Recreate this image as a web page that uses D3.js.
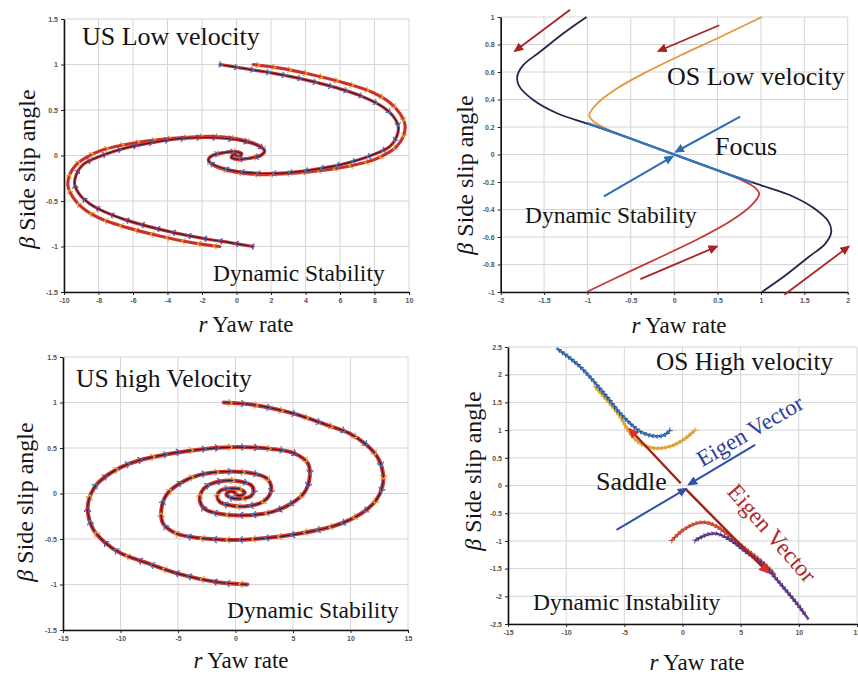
<!DOCTYPE html>
<html>
<head>
<meta charset="utf-8">
<script src="https://cdn.jsdelivr.net/npm/d3@7"></script>
<style>
  body { margin: 0; background: #fff; }
  .tick text { font-family: "Liberation Sans", Arial, sans-serif; font-size: 7px; font-weight: bold; fill: #555; }
</style>
</head>
<body>
<script>
// ---- tick values ----
var usLowXTicks = [-10, -8, -6, -4, -2, 0, 2, 4, 6, 8, 10];
var usLowYTicks = [-1.5, -1, -0.5, 0, 0.5, 1, 1.5];
var osLowXTicks = [-2, -1.5, -1, -0.5, 0, 0.5, 1, 1.5, 2];
var osLowYTicks = [-1, -0.8, -0.6, -0.4, -0.2, 0, 0.2, 0.4, 0.6, 0.8, 1];
var usHighXTicks = [-15, -10, -5, 0, 5, 10, 15];
var usHighYTicks = [-1.5, -1, -0.5, 0, 0.5, 1, 1.5];
var osHighXTicks = [-15, -10, -5, 0, 5, 10, 15];
var osHighYTicks = [-2.5, -2, -1.5, -1, -0.5, 0, 0.5, 1, 1.5, 2, 2.5];

// ---- US low velocity trajectories [r, beta] ----
var usLowA = [[-0.96,1.0],[0.3,0.96],[1.65,0.92],[3.58,0.85],[6.39,0.71],[7.64,0.62],[8.51,0.53],[9.09,0.43],[9.38,0.32],[9.29,0.21],[8.9,0.10],[8.32,0.04],[6.58,-0.075],[4.65,-0.15],[2.91,-0.19],[1.17,-0.195],[-0.38,-0.16],[-1.34,-0.10],[-1.63,-0.05],[-1.44,-0.005],[-0.77,0.03],[0.01,0.04],[0.3,0.02],[0.15,-0.01],[0,0]];
var usLowB = [[0.97,1.0],[2.52,0.96],[4.45,0.885],[6.39,0.79],[7.93,0.69],[8.9,0.58],[9.48,0.46],[9.77,0.335],[9.67,0.21],[9.29,0.10],[8.7,0.02],[7.93,-0.05],[6.58,-0.115],[4.84,-0.167],[2.91,-0.20],[1.36,-0.21],[-0.38,-0.17],[-1.34,-0.105],[-1.63,-0.05],[-1.44,-0.005],[-0.77,0.03],[0.01,0.04],[0.3,0.02],[0.15,-0.01],[0,0]];
var usLowC = [[0.96,-1.0],[-0.3,-0.96],[-1.65,-0.92],[-3.58,-0.85],[-6.39,-0.71],[-7.64,-0.62],[-8.51,-0.53],[-9.09,-0.43],[-9.38,-0.32],[-9.29,-0.21],[-8.9,-0.10],[-8.32,-0.04],[-6.58,0.075],[-4.65,0.15],[-2.91,0.19],[-1.17,0.195],[0.38,0.16],[1.34,0.10],[1.63,0.05],[1.44,0.005],[0.77,-0.03],[-0.01,-0.04],[-0.3,-0.02],[-0.15,0.01],[0,0]];
var usLowD = [[-0.97,-1.0],[-2.52,-0.96],[-4.45,-0.885],[-6.39,-0.79],[-7.93,-0.69],[-8.9,-0.58],[-9.48,-0.46],[-9.77,-0.335],[-9.67,-0.21],[-9.29,-0.10],[-8.7,-0.02],[-7.93,0.05],[-6.58,0.115],[-4.84,0.167],[-2.91,0.20],[-1.36,0.21],[0.38,0.17],[1.34,0.105],[1.63,0.05],[1.44,0.005],[0.77,-0.03],[-0.01,-0.04],[-0.3,-0.02],[-0.15,0.01],[0,0]];

// ---- OS low velocity ----
var osLowDark1 = [[-1.01,1.0],[-1.28,0.88],[-1.55,0.745],[-1.74,0.65],[-1.81,0.565],[-1.78,0.49],[-1.62,0.395],[-1.35,0.30],[-1.01,0.226],[-0.66,0.152],[-0.32,0.073],[0,0]];
var osLowDark2 = [[1.01,-1.0],[1.28,-0.88],[1.55,-0.745],[1.74,-0.65],[1.81,-0.565],[1.78,-0.49],[1.62,-0.395],[1.35,-0.30],[1.01,-0.226],[0.66,-0.152],[0.32,-0.073],[0,0]];
var osLowOrange = [[1.01,1.0],[0.53,0.855],[0.07,0.72],[-0.32,0.60],[-0.66,0.48],[-0.89,0.37],[-0.98,0.287],[-0.93,0.24],[-0.82,0.20],[-0.6,0.138],[-0.32,0.073],[0,0]];
var osLowRed = [[-1.01,-1.0],[-0.53,-0.855],[-0.07,-0.72],[0.32,-0.60],[0.66,-0.48],[0.89,-0.37],[0.98,-0.287],[0.93,-0.24],[0.82,-0.20],[0.6,-0.138],[0.32,-0.073],[0,0]];
var osLowBlue = [[-1.0,0.228],[-0.66,0.152],[-0.32,0.073],[0,0],[0.32,-0.073],[0.66,-0.152],[0.9,-0.205]];
var osLowRedArrows = [[-1.2,1.053,-1.835,0.753],[0.52,0.94,-0.18,0.753],[-0.39,-0.906,0.49,-0.67],[1.27,-1.02,2.01,-0.67]];
var osLowBlueArrows = [[0.76,0.275,0.02,0.02],[-0.81,-0.305,-0.02,-0.015]];

// ---- US high velocity ----
var usHighA = [[-1.03,1.0],[1.52,0.975],[5.0,0.88],[7.9,0.755],[9.93,0.66],[11.38,0.535],[12.39,0.39],[12.83,0.22],[12.77,0.077],[12.25,-0.07],[11.38,-0.18],[9.93,-0.29],[8.48,-0.36],[5.58,-0.44],[2.68,-0.49],[-0.22,-0.51],[-3.12,-0.49],[-5.14,-0.44],[-6.3,-0.33],[-6.45,-0.18],[-6.01,-0.015],[-4.86,0.11],[-3.12,0.205],[-0.8,0.24],[1.52,0.22],[2.68,0.17],[3.1,0.08],[2.97,-0.015],[2.39,-0.09],[0.94,-0.14],[-0.5,-0.13],[-1.38,-0.09],[-1.58,-0.03],[-1.32,0.03],[-0.5,0.055],[0.36,0.048],[0.8,0.01],[0.5,-0.022],[0.1,-0.015],[0,0]];
var usHighB = [[1.03,-1.0],[-1.52,-0.975],[-5.0,-0.88],[-7.9,-0.755],[-9.93,-0.66],[-11.38,-0.535],[-12.39,-0.39],[-12.83,-0.22],[-12.77,-0.077],[-12.25,0.07],[-11.38,0.18],[-9.93,0.29],[-8.48,0.36],[-5.58,0.44],[-2.68,0.49],[0.22,0.51],[3.12,0.49],[5.14,0.44],[6.3,0.33],[6.45,0.18],[6.01,0.015],[4.86,-0.11],[3.12,-0.205],[0.8,-0.24],[-1.52,-0.22],[-2.68,-0.17],[-3.1,-0.08],[-2.97,0.015],[-2.39,0.09],[-0.94,0.14],[0.5,0.13],[1.38,0.09],[1.58,0.03],[1.32,-0.03],[0.5,-0.055],[-0.36,-0.048],[-0.8,-0.01],[-0.5,0.022],[-0.1,0.015],[0,0]];

// ---- OS high velocity ----
var osHighBlue = [[-1.08,0.994],[-1.51,0.916],[-2.23,0.886],[-3.37,0.945],[-4.23,1.07],[-5.38,1.31],[-6.53,1.61],[-8.83,2.15],[-10.84,2.48]];
var osHighOrange = [[1.08,1.0],[0.07,0.825],[-1.08,0.705],[-2.51,0.675],[-3.66,0.765],[-4.52,0.945],[-5.38,1.25],[-6.53,1.55],[-7.6,1.8]];
var osHighRed = [[-0.93,-0.994],[0.07,-0.80],[1.22,-0.68],[2.08,-0.67],[2.94,-0.74],[4.09,-0.92],[5.53,-1.16],[6.96,-1.40],[8.0,-1.62]];
var osHighPurple = [[1.08,-0.994],[2.08,-0.89],[2.94,-0.87],[4.09,-0.98],[5.53,-1.21],[6.96,-1.43],[8.40,-1.77],[9.83,-2.13],[10.84,-2.42]];
var osHighEigenRed = [[-0.15,0.04,-4.55,1.02],[0.3,-0.07,7.35,-1.57]];
var osHighEigenBlue = [[6.24,0.735,0.55,0.02],[-5.67,-0.80,0.3,-0.06]];

var width = 858;
var height = 675;
var SERIF = '"Liberation Serif", "DejaVu Serif", "Times New Roman", serif';

var svg = d3.select("body").append("svg")
    .attr("width", width)
    .attr("height", height);

// arrow heads
var defs = svg.append("defs");
function arrowMarker(id, color, size) {
    defs.append("marker")
        .attr("id", id)
        .attr("viewBox", "0 -5 10 10")
        .attr("refX", 8).attr("refY", 0)
        .attr("markerWidth", size).attr("markerHeight", size)
        .attr("markerUnits", "userSpaceOnUse")
        .attr("orient", "auto")
        .append("path")
        .attr("d", "M0,-4.5L10,0L0,4.5Z")
        .attr("fill", color);
}
arrowMarker("ar-dred", "#a82424", 10);
arrowMarker("ar-blue", "#2f6db3", 10);
arrowMarker("ar-navy", "#2f4fa8", 10);
arrowMarker("ar-red", "#d8302a", 11);

function serifText() {
    return svg.append("text")
        .style("font-family", SERIF)
        .style("fill", "#151515");
}

function panel(o) {
    var x = d3.scaleLinear().domain(o.xd).range(o.xr);
    var y = d3.scaleLinear().domain(o.yd).range(o.yr);
    var g = svg.append("g");

    // grid
    g.selectAll(null).data(o.xt).enter().append("line")
        .attr("x1", d => x(d)).attr("x2", d => x(d))
        .attr("y1", o.yr[0]).attr("y2", o.yr[1])
        .attr("stroke", "#d6d6d6").attr("stroke-width", 1);
    g.selectAll(null).data(o.yt).enter().append("line")
        .attr("x1", o.xr[0]).attr("x2", o.xr[1])
        .attr("y1", d => y(d)).attr("y2", d => y(d))
        .attr("stroke", "#d6d6d6").attr("stroke-width", 1);

    // axes
    var ax = g.append("g").attr("transform", "translate(0," + o.yr[0] + ")")
        .call(d3.axisBottom(x).tickValues(o.xt).tickSizeInner(3).tickSizeOuter(0).tickPadding(3).tickFormat(d => String(d)));
    var ay = g.append("g").attr("transform", "translate(" + o.xr[0] + ",0)")
        .call(d3.axisLeft(y).tickValues(o.yt).tickSizeInner(3).tickSizeOuter(0).tickPadding(3).tickFormat(d => String(d)));
    [ax, ay].forEach(a => {
        a.select(".domain").attr("stroke", "#111").attr("stroke-width", 1.6);
        a.selectAll(".tick line").attr("stroke", "#222");
    });

    // axis titles
    var xl = serifText()
        .attr("x", o.xl[0]).attr("y", o.xl[1])
        .attr("text-anchor", "middle").attr("font-size", 23);
    xl.append("tspan").attr("font-style", "italic").text("r");
    xl.append("tspan").text(" Yaw rate");

    var yl = serifText()
        .attr("transform", "translate(" + o.yl[0] + "," + o.yl[1] + ") rotate(-90)")
        .attr("text-anchor", "middle").attr("font-size", 24);
    yl.append("tspan").attr("font-style", "italic").text("β");
    yl.append("tspan").text(" Side slip angle");

    return { x: x, y: y, g: g };
}

function label(txt, px, py, size, opts) {
    opts = opts || {};
    var t = serifText().attr("font-size", size).text(txt);
    if (opts.rotate !== undefined) {
        t.attr("transform", "translate(" + px + "," + py + ") rotate(" + opts.rotate + ")")
         .attr("text-anchor", "middle").attr("dominant-baseline", "central");
    } else {
        t.attr("x", px).attr("y", py);
    }
    if (opts.color) t.style("fill", opts.color);
    return t;
}

// a trajectory: thick under-stroke, thin core line, chevrons along the path
function trajectory(p, pts, o) {
    var line = d3.line()
        .x(d => p.x(d[0])).y(d => p.y(d[1]))
        .curve(d3.curveCatmullRom.alpha(0.5));
    if (o.under) {
        p.g.append("path").attr("d", line(pts)).attr("fill", "none")
            .attr("stroke", o.under).attr("stroke-width", o.underW || 3.2)
            .attr("stroke-linejoin", "round").attr("stroke-linecap", "round");
    }
    var core = p.g.append("path").attr("d", line(pts)).attr("fill", "none")
        .attr("stroke", o.color).attr("stroke-width", o.w || 1.2)
        .attr("stroke-linejoin", "round");
    if (!o.step) return;
    var node = core.node(), L = node.getTotalLength();
    var sz = o.size || 3;
    for (var s = o.offset || 0; s < L - 3; s += o.step) {
        var a = node.getPointAtLength(s), b = node.getPointAtLength(Math.min(L, s + 1));
        var ang = Math.atan2(b.y - a.y, b.x - a.x) * 180 / Math.PI;
        var col = Array.isArray(o.mark) ? o.mark[Math.round(s / o.step) % o.mark.length] : o.mark;
        p.g.append("path")
            .attr("d", "M" + (-sz) + "," + (-sz) + "L0.5,0L" + (-sz) + "," + sz)
            .attr("transform", "translate(" + a.x + "," + a.y + ") rotate(" + ang + ")")
            .attr("fill", "none").attr("stroke", col).attr("stroke-width", o.markW || 1.2);
    }
}

function arrow(p, seg, color, w, marker) {
    p.g.append("line")
        .attr("x1", p.x(seg[0])).attr("y1", p.y(seg[1]))
        .attr("x2", p.x(seg[2])).attr("y2", p.y(seg[3]))
        .attr("stroke", color).attr("stroke-width", w)
        .attr("marker-end", "url(#" + marker + ")");
}

var RED = "#d6372c", DARK = "#26244a", BLUE = "#3b7cc4", ORANGE = "#e8a23a", PURPLE = "#6a4a9c";

// ---------- US Low velocity ----------
var p1 = panel({ xd: [-10, 10], yd: [-1.5, 1.5], xr: [64, 409], yr: [292, 19],
    xt: usLowXTicks, yt: usLowYTicks, xl: [246, 332], yl: [35, 169] });
trajectory(p1, usLowB, { under: RED, color: "#b8322a", step: 16, offset: 6, mark: ORANGE, size: 3 });
trajectory(p1, usLowA, { under: RED, color: DARK, step: 16, offset: 2, mark: BLUE, size: 3 });
trajectory(p1, usLowD, { under: RED, color: "#b8322a", step: 16, offset: 6, mark: ORANGE, size: 3 });
trajectory(p1, usLowC, { under: RED, color: DARK, step: 16, offset: 2, mark: PURPLE, size: 3 });
label("US Low velocity", 82, 45, 26);
label("Dynamic Stability", 213, 281, 23.5);

// ---------- OS Low velocity ----------
var p2 = panel({ xd: [-2, 2], yd: [-1, 1], xr: [500.7, 847.7], yr: [292, 17],
    xt: osLowXTicks, yt: osLowYTicks, xl: [679, 333], yl: [473, 175] });
trajectory(p2, osLowOrange, { color: "#e3983a", w: 1.8 });
trajectory(p2, osLowRed, { color: "#c43a36", w: 1.8 });
trajectory(p2, osLowDark1, { color: DARK, w: 1.8 });
trajectory(p2, osLowDark2, { color: DARK, w: 1.8 });
trajectory(p2, osLowBlue, { color: "#3474b8", w: 2.4 });
osLowRedArrows.forEach(s => arrow(p2, s, "#a82424", 1.8, "ar-dred"));
osLowBlueArrows.forEach(s => arrow(p2, s, "#2f6db3", 2, "ar-blue"));
label("OS Low velocity", 667, 85, 26);
label("Focus", 715, 155, 26);
label("Dynamic Stability", 525, 223, 23.5);

// ---------- US high Velocity ----------
var p3 = panel({ xd: [-15, 15], yd: [-1.5, 1.5], xr: [63, 408], yr: [630, 357],
    xt: usHighXTicks, yt: usHighYTicks, xl: [241, 668], yl: [33, 502] });
trajectory(p3, usHighA, { under: RED, underW: 4, color: DARK, step: 13, offset: 8, mark: [BLUE, ORANGE], size: 3.5 });
trajectory(p3, usHighB, { under: RED, underW: 4, color: DARK, step: 13, offset: 8, mark: [PURPLE, ORANGE, BLUE], size: 3.5 });
label("US high Velocity", 76, 387, 25.6);
label("Dynamic Stability", 227, 618, 23.5);

// ---------- OS High velocity ----------
var p4 = panel({ xd: [-15, 15], yd: [-2.5, 2.5], xr: [508, 857], yr: [624, 347],
    xt: osHighXTicks, yt: osHighYTicks, xl: [697, 670], yl: [481, 471] });
trajectory(p4, osHighOrange, { color: "#e3a83a", w: 2.6, step: 4, mark: "#d99a2a", size: 2, markW: 0.9 });
trajectory(p4, osHighBlue, { color: "#3f82c2", w: 2.6, step: 4, mark: "#2a4a7a", size: 2, markW: 0.9 });
trajectory(p4, osHighRed, { color: "#d4563a", w: 2.6, step: 4, mark: "#b8402a", size: 2, markW: 0.9 });
trajectory(p4, osHighPurple, { color: "#6f4196", w: 2.6, step: 4, mark: "#4a2a70", size: 2, markW: 0.9 });
osHighEigenRed.forEach(s => arrow(p4, s, "#a3201e", 2.4, "ar-red"));
osHighEigenBlue.forEach(s => arrow(p4, s, "#2f4fa8", 2, "ar-navy"));
label("OS High velocity", 656, 370, 25.3);
label("Saddle", 596, 490, 26);
label("Dynamic Instability", 533, 610, 23.5);
label("Eigen Vector", 750, 431, 23, { rotate: -30, color: "#2c3e9e" });
label("Eigen Vector", 772, 533, 23.5, { rotate: 49, color: "#b02a2a" });
</script>
</body>
</html>
